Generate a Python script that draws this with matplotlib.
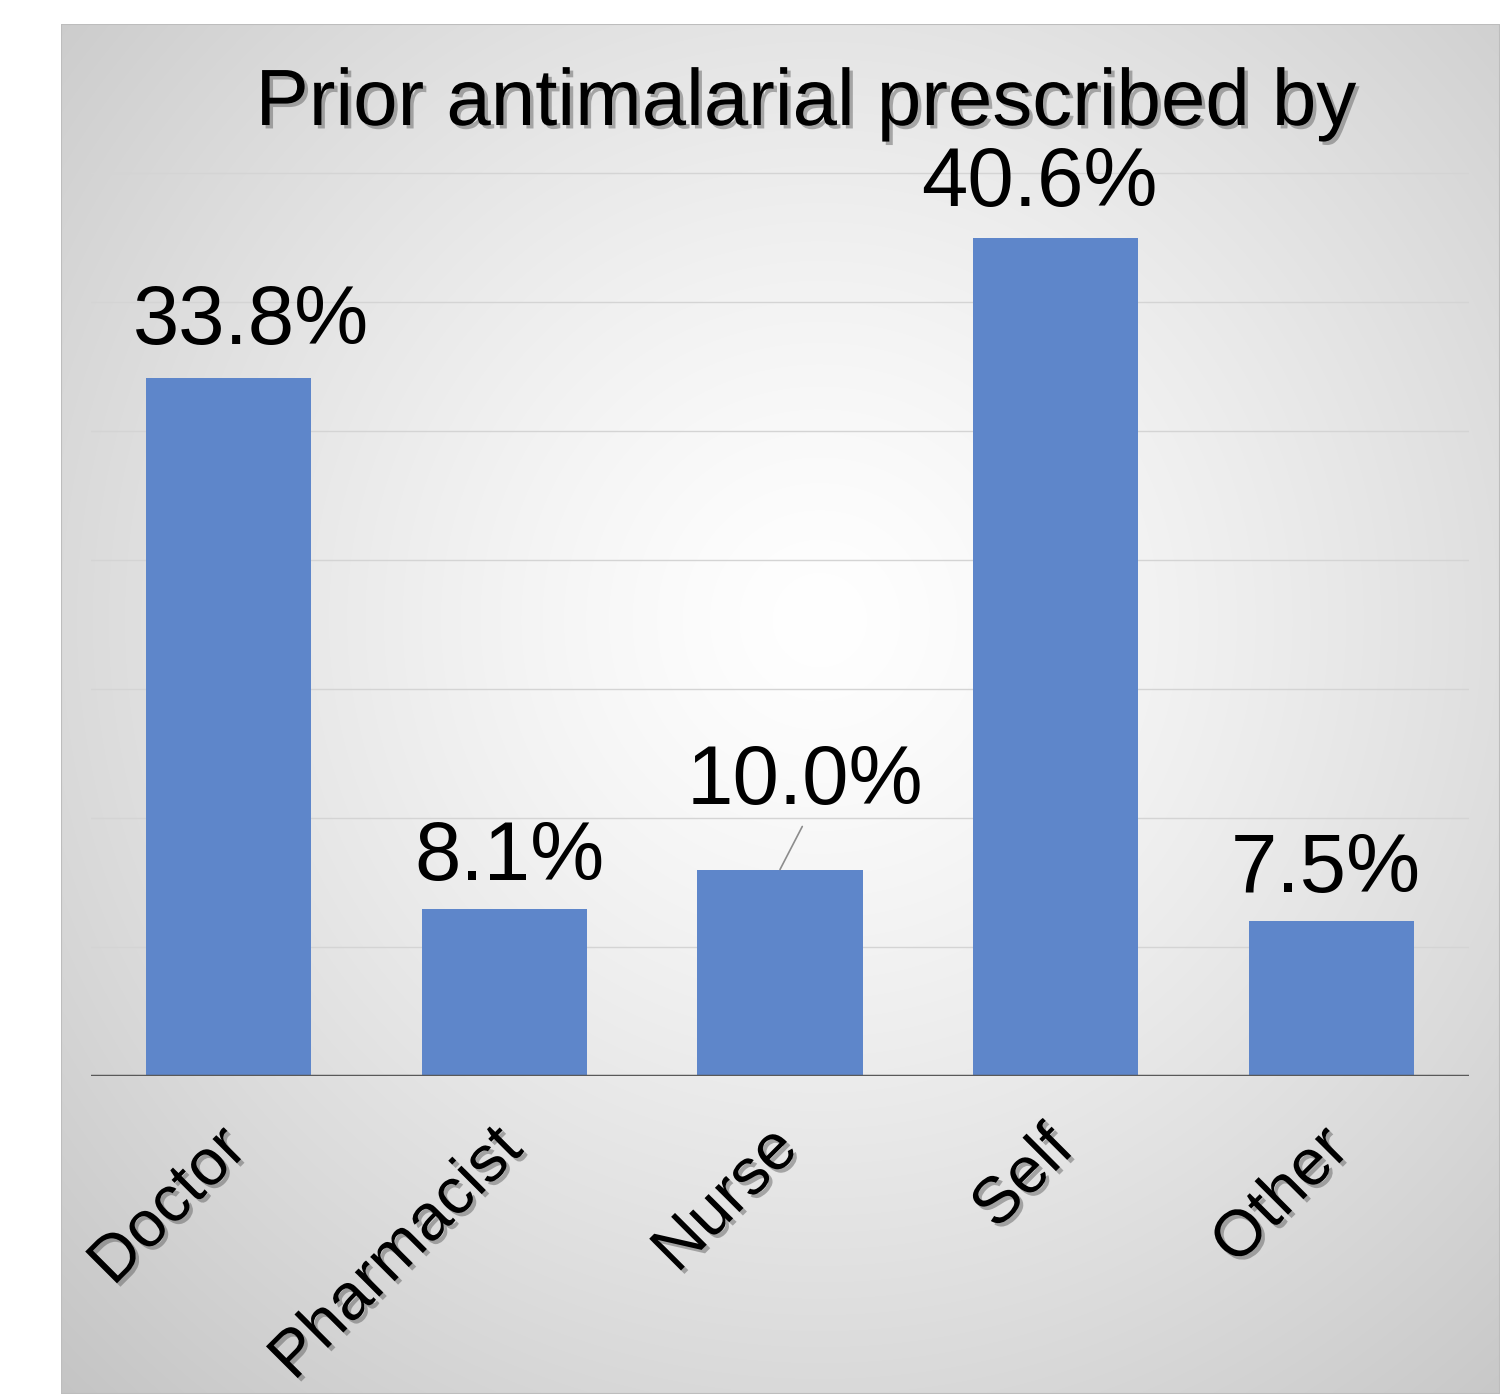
import numpy as np
import matplotlib
matplotlib.use("Agg")
from matplotlib import pyplot as plt
from matplotlib import patheffects as pe
from matplotlib.patches import Rectangle
from matplotlib.transforms import ScaledTranslation

plt.rcParams["font.family"] = ["Liberation Sans", "DejaVu Sans"]

# ---------------------------------------------------------------------------
# Data
# ---------------------------------------------------------------------------
categories = ["Doctor", "Pharmacist", "Nurse", "Self", "Other"]
percent = [33.8, 8.1, 10.0, 40.6, 7.5]
labels = ["33.8%", "8.1%", "10.0%", "40.6%", "7.5%"]
title = "Prior antimalarial prescribed by"

# label offsets (points) relative to bar top centre
label_dx = [16, 4, 18, -12, -4]
label_dy = [24.5, 21, 47, 22.5, 21]

BAR_COLOR = "#5e86ca"
W, H = 1508, 1394

fig = plt.figure(figsize=(W / 100, H / 100), dpi=100)
fig.patch.set_facecolor("white")

# ── Panel background with radial gradient ─────────────────────────────────
px0, px1, py0, py1 = 61, 1500, 24, H
bg = fig.add_axes([px0 / W, 0, (px1 - px0) / W, (py1 - py0) / H])
gx = np.linspace(px0, px1, 400)
gy = np.linspace(py0, py1, 400)
XX, YY = np.meshgrid(gx, gy)
cx, cy = 820, 620
r = np.hypot(XX - cx, YY - cy)
r = r / np.hypot(px0 - cx, py1 - cy)
val = np.clip(1.0 - 0.23 * r ** 1.3, 0, 1)
bg.imshow(np.dstack([val, val, val]), extent=[0, 1, 0, 1], aspect="auto",
          origin="upper", interpolation="bilinear")
bg.add_patch(Rectangle((0, 0), 1, 1, transform=bg.transAxes, fill=False,
                       edgecolor="#bdbdbd", linewidth=1.5))
bg.set_xlim(0, 1)
bg.set_ylim(0, 1)
bg.axis("off")

# ── Main axes ───────────────────────────────────────────────────────────────
ax_left, ax_right, base_y = 91, 1469, 1076
ymax = 50
ppu = 20.65
ax_top = base_y - ymax * ppu
ax = fig.add_axes([ax_left / W, (H - base_y) / H, (ax_right - ax_left) / W,
                   (base_y - ax_top) / H])
ax.set_facecolor("none")
ax.set_xlim(-0.5, len(categories) - 0.5)
ax.set_ylim(0, ymax)

x = np.arange(len(categories))
ax.bar(x, percent, width=0.6, color=BAR_COLOR, zorder=3)

for yv in np.arange(6.25, 44, 6.25):
    ax.axhline(yv, color="#d4d4d4", linewidth=1.0, zorder=1)
ax.axhline(0, color="#595959", linewidth=2.5, zorder=4)

for spine in ax.spines.values():
    spine.set_visible(False)
ax.set_yticks([])
ax.set_xticks(x)
ax.tick_params(axis="x", length=0, pad=0)

shadow = [pe.SimplePatchShadow(offset=(2.5, -2.5), shadow_rgbFace="#555555",
                               alpha=0.45), pe.Normal()]
ax.set_xticklabels(categories, rotation=45, ha="right", va="top",
                   rotation_mode="anchor", fontsize=47)
for t in ax.get_xticklabels():
    t.set_path_effects(shadow)
    t.set_transform(t.get_transform() +
                    ScaledTranslation(-13 / 100, -42 / 100, fig.dpi_scale_trans))

for i, (v, lab) in enumerate(zip(percent, labels)):
    kw = {}
    if lab == "10.0%":
        kw["arrowprops"] = dict(arrowstyle="-", color="#8c8c8c", lw=1.2,
                                relpos=(0.5, 0.0), shrinkA=2, shrinkB=0)
    ax.annotate(lab, xy=(x[i], v), xytext=(label_dx[i], label_dy[i]),
                textcoords="offset points", ha="center", va="baseline",
                fontsize=60, color="black", zorder=5, **kw)

fig.text(806 / W, (H - 125) / H, title, ha="center", va="baseline",
         fontsize=57.5, color="black", path_effects=shadow)

fig.savefig("out.png", dpi=100)
